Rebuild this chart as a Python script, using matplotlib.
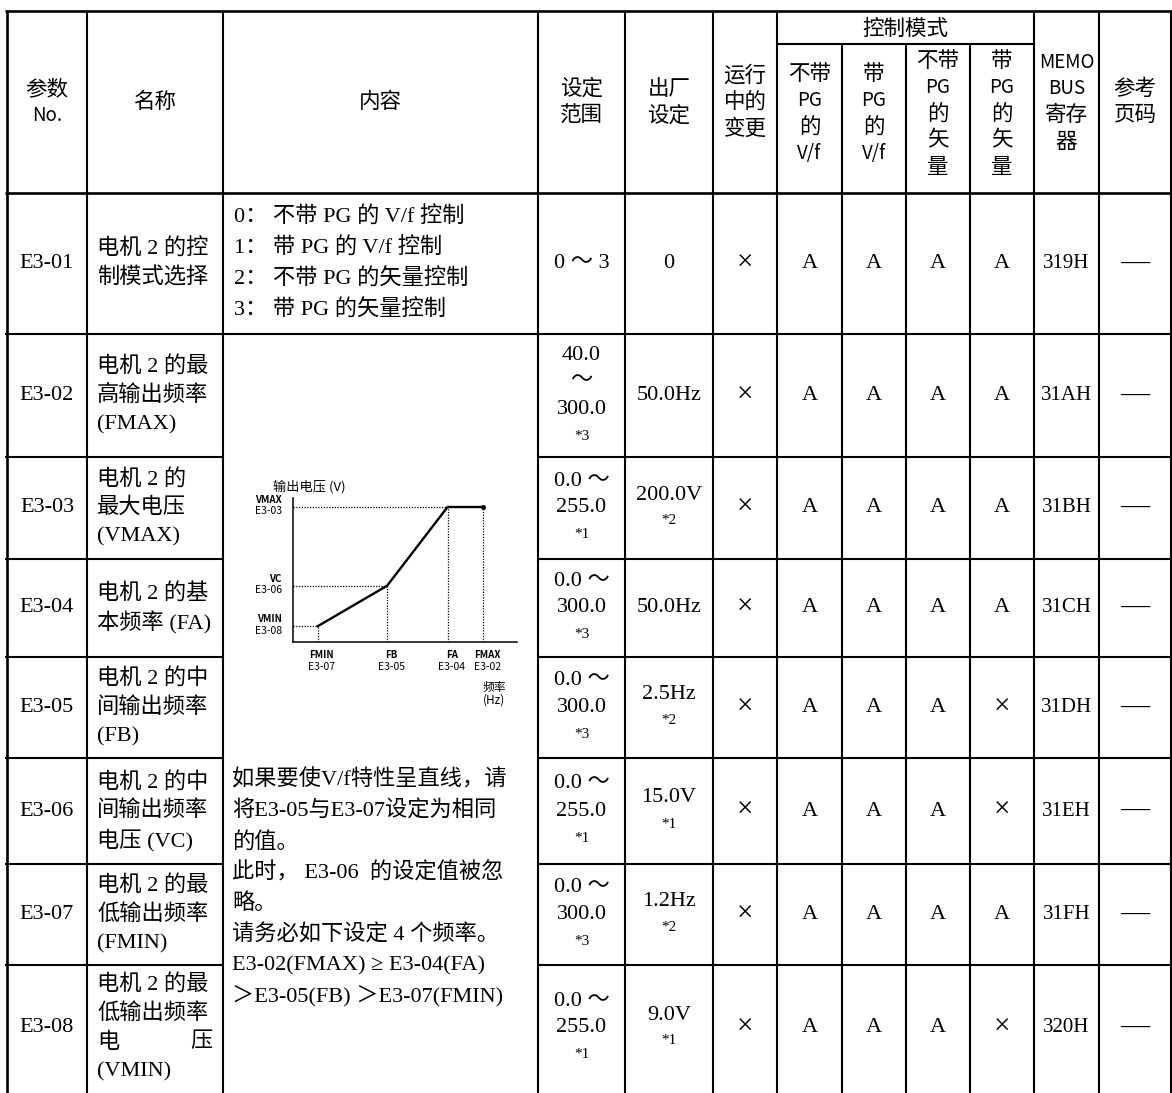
import matplotlib
matplotlib.use('Agg')
import matplotlib.pyplot as plt

# 表头文字
col_headers = ['参数\nNo.', '名称', '内容', '设定\n范围', '出厂\n设定', '运行\n中的\n变更']
mode_title = '控制模式'
mode_headers = ['不带\nPG\n的\nV/f', '带\nPG\n的\nV/f', '不带\nPG\n的\n矢\n量', '带\nPG\n的\n矢\n量']
tail_headers = ['MEMO\nBUS\n寄存\n器', '参考\n页码']

# 表格数据
params = ['E3-01', 'E3-02', 'E3-03', 'E3-04', 'E3-05', 'E3-06', 'E3-07', 'E3-08']
names = [
    ['电机 2 的控', '制模式选择'],
    ['电机 2 的最', '高输出频率', '(FMAX)'],
    ['电机 2 的', '最大电压', '(VMAX)'],
    ['电机 2 的基', '本频率 (FA)'],
    ['电机 2 的中', '间输出频率', '(FB)'],
    ['电机 2 的中', '间输出频率', '电压 (VC)'],
    ['电机 2 的最', '低输出频率', '(FMIN)'],
    ['电机 2 的最', '低输出频率', '电|压', '(VMIN)'],
]
content_e301 = ['0： 不带 PG 的 V/f 控制', '1： 带 PG 的 V/f 控制',
                '2： 不带 PG 的矢量控制', '3： 带 PG 的矢量控制']
content_note = ['如果要使V/f特性呈直线，请', '将E3-05与E3-07设定为相同', '的值。',
                '此时， E3-06  的设定值被忽', '略。', '请务必如下设定 4 个频率。',
                'E3-02(FMAX) ≥ E3-04(FA)', '＞E3-05(FB) ＞E3-07(FMIN)']
ranges = [['0 ～ 3'], ['40.0', '～', '300.0', '*3'], ['0.0 ～', '255.0', '*1'],
          ['0.0 ～', '300.0', '*3'], ['0.0 ～', '300.0', '*3'], ['0.0 ～', '255.0', '*1'],
          ['0.0 ～', '300.0', '*3'], ['0.0 ～', '255.0', '*1']]
defaults = [['0'], ['50.0Hz'], ['200.0V', '*2'], ['50.0Hz'], ['2.5Hz', '*2'],
            ['15.0V', '*1'], ['1.2Hz', '*2'], ['9.0V', '*1']]
run_change = ['×'] * 8
modes = [['A', 'A', 'A', 'A'], ['A', 'A', 'A', 'A'], ['A', 'A', 'A', 'A'], ['A', 'A', 'A', 'A'],
         ['A', 'A', 'A', '×'], ['A', 'A', 'A', '×'], ['A', 'A', 'A', 'A'], ['A', 'A', 'A', '×']]
memobus = ['319H', '31AH', '31BH', '31CH', '31DH', '31EH', '31FH', '320H']
ref_page = ['—'] * 8

# V/f 特性示意图
inset_freq = [1.1, 4.2, 6.9, 8.5]
inset_volt = [0.7, 2.5, 6.0, 6.0]
inset_xlabels = [('FMIN', 'E3-07'), ('FB', 'E3-05'), ('FA', 'E3-04'), ('FMAX', 'E3-02')]
inset_ylabels = [('VMIN', 'E3-08'), ('VC', 'E3-06'), ('VMAX', 'E3-03')]

# 版面 (像素)
W, H = 1172, 1093
col_x = [7, 87, 223, 538, 625, 713, 777, 842, 906, 970, 1034, 1099, 1171]
row_y = [11, 193, 334, 457, 559, 657, 758, 864, 965, 1095]
sub_y = 44

serif = ['Liberation Serif', 'Noto Sans CJK SC']
sans = ['Noto Sans CJK SC', 'DejaVu Sans']
lw = 1.5

fig = plt.figure(figsize=(W / 100, H / 100), dpi=100)
ax = fig.add_axes([0, 0, 1, 1])
ax.set_xlim(0, W)
ax.set_ylim(H, 0)
ax.axis('off')


def hline(y, x0, x1, w=lw):
    ax.plot([x0, x1], [y, y], color='black', lw=w, solid_capstyle='butt')


def vline(x, y0, y1, w=lw):
    ax.plot([x, x], [y0, y1], color='black', lw=w, solid_capstyle='butt')


def block(x, cy, lines, pitch, ha='center', family=serif, size=16, small=11):
    y0 = cy - (len(lines) - 1) * pitch / 2
    for i, s in enumerate(lines):
        fs = small if s.startswith('*') else size
        if s in ('×', '—'):
            fs = size + 5
        ax.text(x, y0 + i * pitch, s, ha=ha, va='center', family=family, fontsize=fs)


def head(x, cy, lines, pitch):
    y0 = cy - (len(lines) - 1) * pitch / 2
    for i, s in enumerate(lines):
        latin = s.isascii()
        ax.text(x, y0 + i * pitch, s, ha='center', va='center', family=sans,
                fontsize=13.5 if latin else 15.5)


# 网格线
hline(row_y[0], 5, W, 1.9)
hline(row_y[1], 5, W, 1.9)
hline(row_y[2], 5, W)
for y in row_y[3:-1]:
    hline(y, 5, col_x[2])
    hline(y, col_x[3], W)
hline(sub_y, col_x[6], col_x[10])
for x in col_x:
    top = sub_y if x in col_x[7:10] else row_y[0]
    vline(x, top, H, 1.9 if x == col_x[0] else lw)

# 表头
hc = (row_y[0] + row_y[1]) / 2
for i, t in enumerate(col_headers):
    head((col_x[i] + col_x[i + 1]) / 2, hc, t.split('\n'), 26.5)
ax.text((col_x[6] + col_x[10]) / 2, (row_y[0] + sub_y) / 2 + 1, mode_title,
        ha='center', va='center', family=sans, fontsize=15.5)
for i, t in enumerate(mode_headers):
    head((col_x[6 + i] + col_x[7 + i]) / 2, 114, t.split('\n'), 26.5)
for i, t in enumerate(tail_headers):
    head((col_x[10 + i] + col_x[11 + i]) / 2, hc, t.split('\n'), 26.5)

# 表体
for r in range(len(params)):
    cy = (row_y[r + 1] + row_y[r + 2]) / 2
    if r == len(params) - 1:
        cy = 1028
    block((col_x[0] + col_x[1]) / 2, cy, [params[r]], 30)
    nm = names[r]
    y0 = cy - (len(nm) - 1) * 29 / 2
    for i, s in enumerate(nm):
        if '|' in s:
            a, b = s.split('|')
            ax.text(col_x[1] + 10, y0 + i * 29, a, ha='left', va='center', family=serif, fontsize=16)
            ax.text(col_x[2] - 10, y0 + i * 29, b, ha='right', va='center', family=serif, fontsize=16)
        else:
            ax.text(col_x[1] + 10, y0 + i * 29, s, ha='left', va='center', family=serif, fontsize=16)
    block((col_x[3] + col_x[4]) / 2, cy, ranges[r], 27)
    block((col_x[4] + col_x[5]) / 2, cy, defaults[r], 26)
    block((col_x[5] + col_x[6]) / 2, cy, [run_change[r]], 26)
    for k in range(4):
        block((col_x[6 + k] + col_x[7 + k]) / 2, cy, [modes[r][k]], 26)
    block((col_x[10] + col_x[11]) / 2, cy, [memobus[r]], 26, size=15)
    block((col_x[11] + col_x[12]) / 2, cy, [ref_page[r]], 26)

block(col_x[2] + 11, (row_y[1] + row_y[2]) / 2, content_e301, 31, ha='left')
for i, s in enumerate(content_note):
    ax.text(col_x[2] + 9, 780 + i * 31, s, ha='left', va='center', family=serif, fontsize=16)

# V/f 示意图
ix0, ix1, iy0, iy1 = 293, 517, 642, 498
ax2 = fig.add_axes([ix0 / W, 1 - iy0 / H, (ix1 - ix0) / W, (iy0 - iy1) / H])
ax2.set_xlim(0, 10)
ax2.set_ylim(0, 6.4)
ax2.patch.set_alpha(0)
for s in ['top', 'right']:
    ax2.spines[s].set_visible(False)
for s in ['left', 'bottom']:
    ax2.spines[s].set_linewidth(1.1)
ax2.set_xticks([])
ax2.set_yticks([])
ax2.plot(inset_freq, inset_volt, color='black', lw=1.7)
ax2.plot(inset_freq[-1], inset_volt[-1], 'o', color='black', ms=2.5)
for f, v in zip(inset_freq[:3], inset_volt[:3]):
    ax2.plot([0, f], [v, v], color='black', lw=0.9, ls=(0, (1, 1.2)))
for f, v in zip(inset_freq, inset_volt):
    ax2.plot([f, f], [0, v], color='black', lw=0.9, ls=(0, (1, 1.2)))
for (a, b), v in zip(inset_ylabels, inset_volt[:3]):
    ax2.annotate(a, xy=(0, v), xycoords=('axes fraction', 'data'), xytext=(-8, 1.5),
                 textcoords='offset points', ha='right', va='bottom', family=sans,
                 fontsize=7, fontweight='bold', annotation_clip=False)
    ax2.annotate(b, xy=(0, v), xycoords=('axes fraction', 'data'), xytext=(-8, 0.5),
                 textcoords='offset points', ha='right', va='top', family=sans,
                 fontsize=7.5, annotation_clip=False)
for (a, b), f in zip(inset_xlabels, inset_freq):
    ax2.annotate(a, xy=(f, 0), xycoords=('data', 'axes fraction'), xytext=(3, -9),
                 textcoords='offset points', ha='center', va='center', family=sans,
                 fontsize=7, fontweight='bold', annotation_clip=False)
    ax2.annotate(b, xy=(f, 0), xycoords=('data', 'axes fraction'), xytext=(3, -18),
                 textcoords='offset points', ha='center', va='center', family=sans,
                 fontsize=7.5, annotation_clip=False)
ax.text(309, 487, '输出电压 (V)', ha='center', va='center', family=sans, fontsize=9.5)
ax.text(494, 687, '频率', ha='center', va='center', family=sans, fontsize=8.5)
ax.text(494, 700, '(Hz)', ha='center', va='center', family=sans, fontsize=8.5)

fig.savefig('out.png', dpi=100)
